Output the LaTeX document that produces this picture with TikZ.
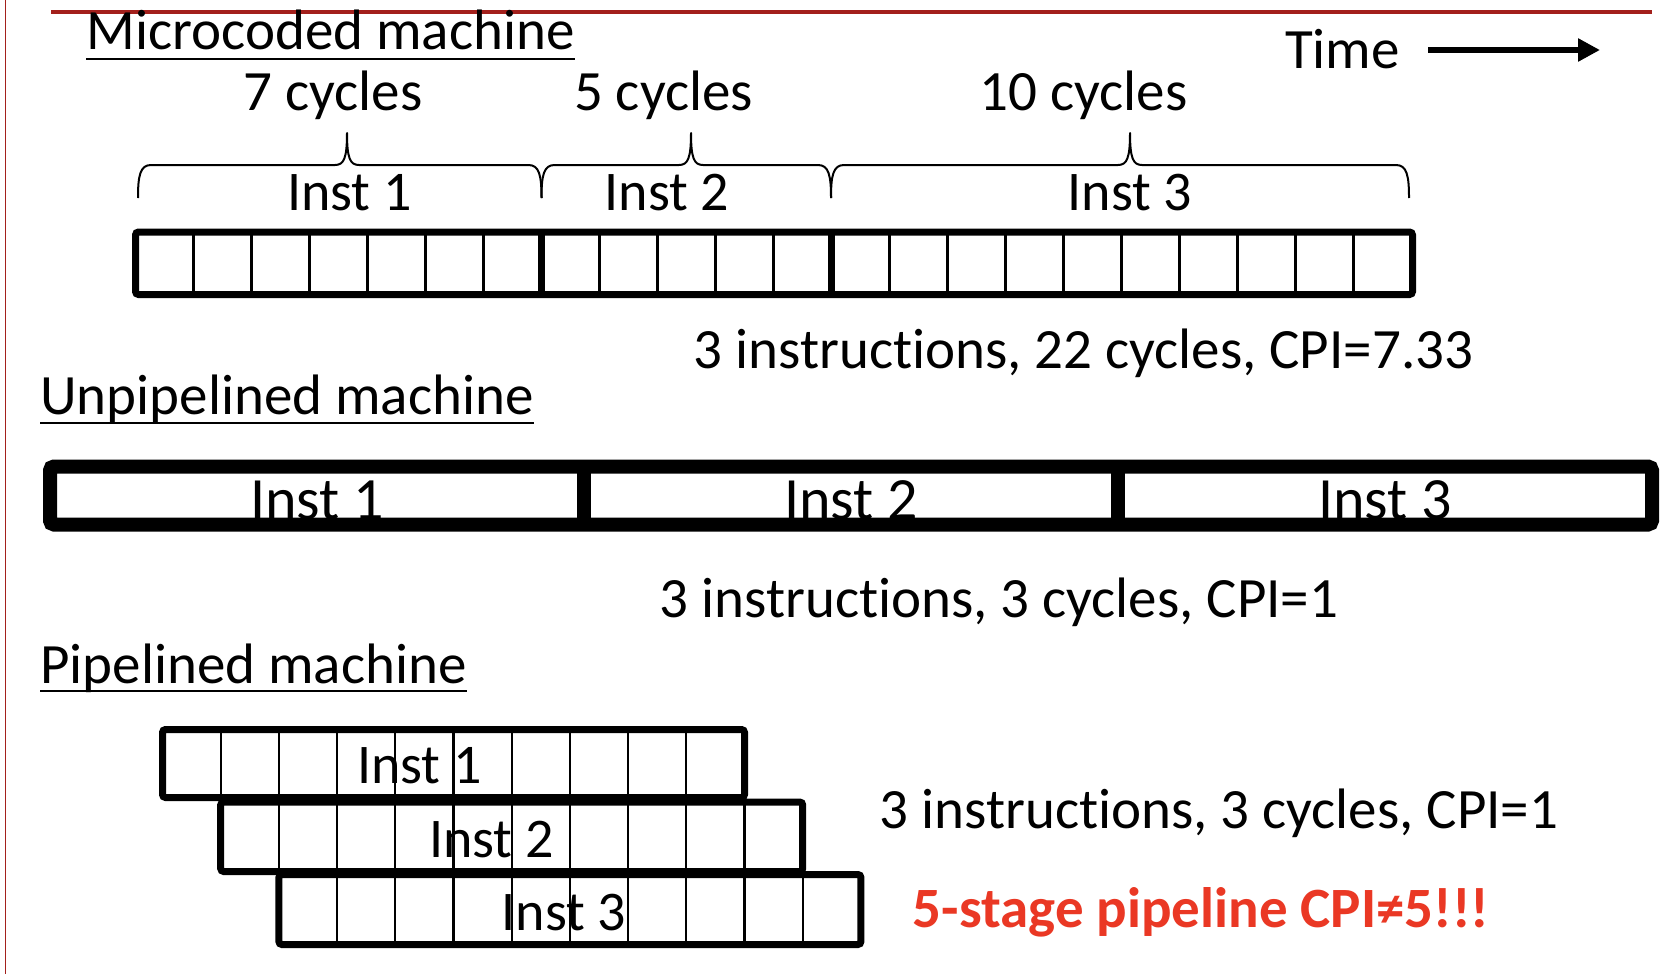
\documentclass[tikz,border=0pt]{standalone}
\usepackage{fontspec}
\setmainfont[Ligatures={NoCommon}]{Carlito}
\usetikzlibrary{arrows.meta}
\definecolor{framered}{RGB}{163,32,28}
\definecolor{warnred}{RGB}{234,56,36}
\newcommand\ppbrace[3]{%
  \draw[bracestyle] (#1,198) .. controls (#1,176) and (#1+2,165) .. (#1+13,165)
    -- (#2-12,165) .. controls (#2-3,165) and (#2,158) .. (#2,133)
    .. controls (#2,158) and (#2+3,165) .. (#2+12,165)
    -- (#3-13,165) .. controls (#3-2,165) and (#3,176) .. (#3,198);}
\begin{document}
\begin{tikzpicture}[x=1pt,y=-1pt,
  txt/.style={inner sep=0pt, anchor=base, font=\fontsize{57}{60}\selectfont},
  insttxt/.style={inner sep=0pt, anchor=base, font=\fontsize{56}{60}\selectfont},
  bigtxt/.style={inner sep=0pt, anchor=base, font=\fontsize{60}{64}\selectfont},
  warntxt/.style={inner sep=0pt, anchor=base, text=warnred, font=\fontsize{57}{60}\selectfont\bfseries},
  ul/.style={line width=2.5pt},
  frameline/.style={draw=framered},
  bracestyle/.style={line width=2pt, line join=round},
  timearrow/.style={line width=6pt, -{Triangle[length=22pt,width=22pt]}},
  mbox/.style={line width=7pt, rounded corners=3pt},
  ubox/.style={line width=14pt, rounded corners=4pt},
  thincell/.style={line width=2.2pt},
  thickcell/.style={line width=7pt},
  udiv/.style={line width=14pt},
]
\useasboundingbox (0,0) rectangle (1672,974);
\fill[white] (0,0) rectangle (1672,974);
% frame lines
\draw[frameline, line width=3.5pt] (51,12) -- (1652,12);
\draw[frameline, line width=1.5pt] (5.5,0) -- (5.5,974);

% ---------- Microcoded machine ----------
\node[txt] (mtitle) at (330.5,50) {Microcoded machine};
\draw[ul] ([yshift=-9pt]mtitle.base west) -- ([yshift=-9pt]mtitle.base east);
\node[txt] (time) at (1342.5,68) {Time};
\coordinate (tstart) at (1428,50);
\coordinate (tend) at (1600,50);
\draw[timearrow] (tstart) -- (tend);

\node[txt] (c7) at (333,110) {7 cycles};
\node[txt] (c5) at (663.5,110) {5 cycles};
\node[txt] (c10) at (1083.5,110) {10 cycles};

\ppbrace{138}{347}{541.5}
\ppbrace{541.5}{691}{831}
\ppbrace{831}{1130}{1409}

\node[insttxt] (mi1) at (349.5,210) {Inst 1};
\node[insttxt] (mi2) at (667,210) {Inst 2};
\node[insttxt] (mi3) at (1130,210) {Inst 3};

\foreach \k in {1,...,21} {
  \pgfmathsetmacro\xx{135.5+58*\k}
  \draw[thincell] (\xx,232) -- (\xx,294.5);
}
\draw[thickcell] (541.5,232) -- (541.5,294.5);
\draw[thickcell] (831.5,232) -- (831.5,294.5);
\draw[mbox] (135.5,232) rectangle (1412.5,294.5);

\node[txt] (cpi1) at (1083.5,368) {3 instructions, 22 cycles, CPI=7.33};

% ---------- Unpipelined machine ----------
\node[txt] (utitle) at (287,414) {Unpipelined machine};
\draw[ul] ([yshift=-9pt]utitle.base west) -- ([yshift=-9pt]utitle.base east);

\node[bigtxt] (ui1) at (317,519) {Inst 1};
\node[bigtxt] (ui2) at (851,519) {Inst 2};
\node[bigtxt] (ui3) at (1385,519) {Inst 3};
\draw[udiv] (584,466.5) -- (584,524.5);
\draw[udiv] (1118,466.5) -- (1118,524.5);
\draw[ubox] (50,466.5) rectangle (1652,524.5);

\node[txt] (cpi2) at (999,617) {3 instructions, 3 cycles, CPI=1};

% ---------- Pipelined machine ----------
\node[txt] (ptitle) at (253.5,683) {Pipelined machine};
\draw[ul] ([yshift=-8pt]ptitle.base west) -- ([yshift=-8pt]ptitle.base east);

\node[insttxt] (pi1) at (419.5,783) {Inst 1};
\node[insttxt] (pi2) at (491.5,857) {Inst 2};
\node[insttxt] (pi3) at (564,930) {Inst 3};

\foreach \r/\top/\bot in {0/729.5/797.5, 1/802/871.5, 2/874.5/944.5} {
  \pgfmathsetmacro\lft{162.5+58.2*\r}
  \foreach \k in {1,...,9} {
    \pgfmathsetmacro\xx{\lft+58.2*\k}
    \draw[thincell] (\xx,\top) -- (\xx,\bot);
  }
  \pgfmathsetmacro\rgt{\lft+582}
  \draw[mbox] (\lft,\top) rectangle (\rgt,\bot);
}

\node[txt] (cpi3) at (1219,828) {3 instructions, 3 cycles, CPI=1};
\node[warntxt] (warn) at (1201,927) {5-stage pipeline CPI≠5!!!};
\end{tikzpicture}
\end{document}
